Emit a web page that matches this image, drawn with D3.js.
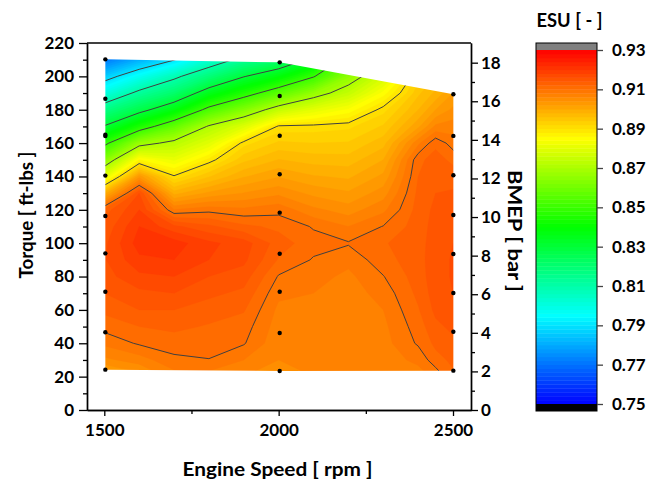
<!DOCTYPE html>
<html><head><meta charset="utf-8">
<script src="https://cdn.jsdelivr.net/npm/d3@7"></script>
<style>
body{margin:0;background:#fff}
svg{display:block}
text{font-family:Lato,"Open Sans",sans-serif;font-weight:700;fill:#000}
</style>
</head><body>
<svg id="c" width="668" height="484"></svg>
<script>
// ---------------- data ----------------
// grid of ESU values read from the map: one row per torque, one column per speed
const gridSpeeds  = [1500,1600,1700,1800,1900,2000,2100,2200,2300,2400,2450,2500];
const gridTorques = [20,30,40,50,60,70,80,90,100,110,120,130,140,150,160,170,180,190,200,210];
const esu = [
 [0.900 ,0.903 ,0.907 ,0.907 ,0.906 ,0.9055,0.906 ,0.9063,0.907 ,0.907 ,0.9085,0.9115], // 20
 [0.9055,0.907 ,0.9095,0.9099,0.908 ,0.906 ,0.9062,0.9064,0.907 ,0.9085,0.9112,0.9125], // 30
 [0.9085,0.9103,0.911 ,0.9112,0.9102,0.9065,0.9066,0.9065,0.9072,0.9103,0.9125,0.9135], // 40
 [0.9108,0.912 ,0.9125,0.9118,0.911 ,0.907 ,0.907 ,0.9066,0.9075,0.911 ,0.9135,0.9145], // 50
 [0.9125,0.914 ,0.914 ,0.913 ,0.9122,0.9075,0.9074,0.9068,0.908 ,0.9118,0.9145,0.9155], // 60
 [0.914 ,0.9155,0.916 ,0.9145,0.9135,0.9085,0.908 ,0.907 ,0.9088,0.9125,0.915 ,0.916 ], // 70
 [0.9152,0.9175,0.918 ,0.916 ,0.915 ,0.9098,0.9088,0.9075,0.9099,0.913 ,0.9152,0.9162], // 80
 [0.9158,0.9195,0.920 ,0.918 ,0.9165,0.9118,0.9098,0.9086,0.9112,0.9132,0.9152,0.9162], // 90
 [0.9155,0.921 ,0.921 ,0.9185,0.917 ,0.913 ,0.9108,0.9102,0.9118,0.9132,0.915 ,0.916 ], // 100
 [0.9145,0.920 ,0.9165,0.9145,0.9125,0.9115,0.9098,0.908 ,0.9101,0.913 ,0.9148,0.9157], // 110
 [0.913 ,0.918 ,0.9082,0.9093,0.9085,0.9093,0.9065,0.905 ,0.9075,0.9128,0.9145,0.9152], // 120
 [0.899 ,0.916 ,0.8993,0.9025,0.9041,0.9055,0.9034,0.9023,0.905 ,0.9125,0.914 ,0.9143], // 130
 [0.8798,0.9032,0.8904,0.8958,0.8998,0.9018,0.9002,0.8996,0.9025,0.912 ,0.9135,0.913 ], // 140
 [0.8635,0.8861,0.8814,0.8887,0.8954,0.8981,0.8971,0.8969,0.9   ,0.9115,0.9128,0.9115], // 150
 [0.8475,0.8667,0.8723,0.8798,0.8911,0.8944,0.894 ,0.8942,0.8972,0.9075,0.9115,0.909 ], // 160
 [0.8306,0.8445,0.8571,0.8709,0.879 ,0.8906,0.8909,0.8915,0.8943,0.9015,0.9065,0.907 ], // 170
 [0.8164,0.8267,0.8373,0.8529,0.8631,0.8743,0.8803,0.8845,0.8912,0.898 ,0.902 ,0.9045], // 180
 [0.800 ,0.8126,0.8211,0.8352,0.8455,0.8559,0.866 ,0.8744,0.8848,0.8955,0.8985,0.902 ], // 190
 [0.786 ,0.7968,0.8077,0.8187,0.8295,0.838 ,0.8493,0.8652,0.8772,0.893 ,0.896 ,0.8995], // 200
 [0.771 ,0.7807,0.7895,0.8026,0.8135,0.8203,0.8327,0.855 ,0.87  ,0.89  ,0.894 ,0.897 ]  // 210
];
// measured operating points
const opSpeeds  = [1503, 2003, 2501];
const opTorques = [
 [210.2,186.6,165.0,164.2,140.5,116.3,93.9,70.9,46.6,24.2],
 [208.4,188.2,164.4,141.3,118.3,93.7,70.9,46.2,23.4],
 [189.3,164.3,140.7,116.9,93.5,70.1,46.9,23.6]
];
// axis ticks
const xTicks = [1500,2000,2500];
const xMinor = [1750,2250];
const yTicks = [0,20,40,60,80,100,120,140,160,180,200,220];
const yMinor = [10,30,50,70,90,110,130,150,170,190,210];
const bmepTicks = [0,2,4,6,8,10,12,14,16,18];
const bmepMinor = [1,3,5,7,9,11,13,15,17];
const cbTicks = [0.75,0.77,0.79,0.81,0.83,0.85,0.87,0.89,0.91,0.93];
const lineLevels = [0.77,0.79,0.81,0.83,0.85,0.87,0.89,0.91];
const bandStep = 0.002;

// ---------------- drawing ----------------
const svg = d3.select("#c");
const L=87, R=471, T=43, B=410;
const x = d3.scaleLinear().domain([1450.4,2551.6]).range([L,R]);
const y = d3.scaleLinear().domain([0,220]).range([B,T]);
const yB = d3.scaleLinear().domain([0,19.02]).range([B,T]);
const color = d3.scaleLinear()
  .domain([0.75,0.795,0.84,0.885,0.93])
  .range(["#0000ff","#00ffff","#00ff00","#ffff00","#ff0000"]).clamp(true);

const nBands = Math.round((0.93-0.75)/bandStep);
const bandLevels = d3.range(nBands).map(i => +(0.75 + i*bandStep).toFixed(4));

const nx = gridSpeeds.length, ny = gridTorques.length;
const flat = esu.flat();
const gx = d3.scaleLinear().domain(gridSpeeds.map((d,i)=>i+0.5)).range(gridSpeeds);
const gy = d3.scaleLinear().domain(gridTorques.map((d,i)=>i+0.5)).range(gridTorques);
const proj = d3.geoTransform({point:function(px,py){this.stream.point(x(gx(px)), y(gy(py)));}});
const path = d3.geoPath(proj);

// envelope of operating points
const tops = opSpeeds.map((s,i)=>[s, d3.max(opTorques[i])]);
const bots = opSpeeds.map((s,i)=>[s, d3.min(opTorques[i])]).reverse();
const env = tops.concat(bots);

const plot = svg.append("g");
const bands = d3.contours().size([nx,ny]).thresholds(bandLevels)(flat);
plot.selectAll("path.band").data(bands).join("path")
  .attr("class","band").attr("d",path)
  .attr("fill", d=>color(d.value+bandStep/2)).attr("stroke", d=>color(d.value+bandStep/2)).attr("stroke-width",0.3);
const lines = d3.contours().size([nx,ny]).thresholds(lineLevels)(flat);
plot.selectAll("path.cl").data(lines).join("path")
  .attr("class","cl").attr("d",path)
  .attr("fill","none").attr("stroke","#404040").attr("stroke-width",1);

// white mask outside the measured envelope
const envPts = env.map(p=>[x(p[0]),y(p[1])]);
const maskD = `M${L-2},${T-2}H${R+2}V${B+2}H${L-2}Z` + "M" + envPts.map(p=>p.join(",")).join("L") + "Z";
svg.append("path").attr("d",maskD).attr("fill","#fff").attr("fill-rule","evenodd");

// points
const pts = [];
opSpeeds.forEach((s,i)=>opTorques[i].forEach(t=>pts.push([s,t])));
svg.append("g").selectAll("circle").data(pts).join("circle")
  .attr("cx",d=>x(d[0])).attr("cy",d=>y(d[1])).attr("r",2.2).attr("fill","#000");

// axes
function styleAxis(g){
  g.selectAll("path.domain").attr("stroke","#000").attr("stroke-width",1.4);
  g.selectAll(".tick line").attr("stroke","#000").attr("stroke-width",1.3);
  g.selectAll("text").style("font-family","Lato, 'Open Sans', sans-serif").style("font-weight","700").style("font-size","17px").attr("fill","#000");
}
const gL = svg.append("g").attr("transform",`translate(${L},0)`);
gL.call(d3.axisLeft(y).tickValues(yTicks).tickSize(8).tickPadding(5).tickSizeOuter(0)).call(styleAxis);
svg.append("g").attr("transform",`translate(${L},0)`)
  .call(d3.axisLeft(y).tickValues(yMinor).tickSize(4).tickFormat("").tickSizeOuter(0)).call(styleAxis);

const gBt = svg.append("g").attr("transform",`translate(0,${B})`);
gBt.call(d3.axisBottom(x).tickValues(xTicks).tickSize(6).tickPadding(8).tickFormat(d3.format("d")).tickSizeOuter(0)).call(styleAxis);
svg.append("g").attr("transform",`translate(0,${B})`)
  .call(d3.axisBottom(x).tickValues(xMinor).tickSize(4).tickFormat("").tickSizeOuter(0)).call(styleAxis);

const gR = svg.append("g").attr("transform",`translate(${R},0)`);
gR.call(d3.axisRight(yB).tickValues(bmepTicks).tickSize(7).tickPadding(3).tickSizeOuter(0)).call(styleAxis);
svg.append("g").attr("transform",`translate(${R},0)`)
  .call(d3.axisRight(yB).tickValues(bmepMinor).tickSize(4).tickFormat("").tickSizeOuter(0)).call(styleAxis);

svg.append("line").attr("x1",L).attr("x2",R).attr("y1",T).attr("y2",T).attr("stroke","#000").attr("stroke-width",1.4);

// titles
svg.append("text").attr("transform","translate(33,215) rotate(-90)").attr("text-anchor","middle")
  .style("font-size","19px").attr("textLength",127).attr("lengthAdjust","spacingAndGlyphs").text("Torque [ ft-lbs ]");
svg.append("text").attr("x",277.5).attr("y",476).attr("text-anchor","middle")
  .style("font-size","19.5px").attr("textLength",190).attr("lengthAdjust","spacingAndGlyphs").text("Engine Speed [ rpm ]");
svg.append("text").attr("transform","translate(508,231) rotate(90)").attr("text-anchor","middle")
  .style("font-size","19.5px").attr("textLength",122).attr("lengthAdjust","spacingAndGlyphs").text("BMEP [ bar ]");

// colorbar
const cbX=536, cbW=61;
const cb = d3.scaleLinear().domain([0.75,0.93]).range([404,50]);
const cbg = svg.append("g");
cbg.selectAll("rect.b").data(bandLevels).join("rect").attr("class","b")
  .attr("x",cbX).attr("width",cbW)
  .attr("y",d=>cb(d+bandStep)).attr("height",d=>cb(d)-cb(d+bandStep)+0.4)
  .attr("fill",d=>color(d+bandStep/2));
cbg.append("rect").attr("x",cbX).attr("width",cbW).attr("y",43).attr("height",cb(0.93)-43).attr("fill","#808080");
cbg.append("rect").attr("x",cbX).attr("width",cbW).attr("y",cb(0.75)).attr("height",411-cb(0.75)).attr("fill","#000");
cbg.append("rect").attr("x",cbX).attr("width",cbW).attr("y",43).attr("height",368).attr("fill","none").attr("stroke","#000").attr("stroke-width",1);
const gC = svg.append("g").attr("transform",`translate(${cbX+cbW},0)`);
gC.call(d3.axisRight(cb).tickValues(cbTicks).tickSize(6).tickPadding(9).tickFormat(d3.format(".2f")).tickSizeOuter(0)).call(styleAxis);
gC.select("path.domain").remove();
gC.selectAll(".tick line").attr("stroke","#444");
svg.append("text").attr("x",569.5).attr("y",27).attr("text-anchor","middle").style("font-size","19px")
  .attr("textLength",66).attr("lengthAdjust","spacingAndGlyphs").text("ESU [ - ]");
</script>
</body></html>
